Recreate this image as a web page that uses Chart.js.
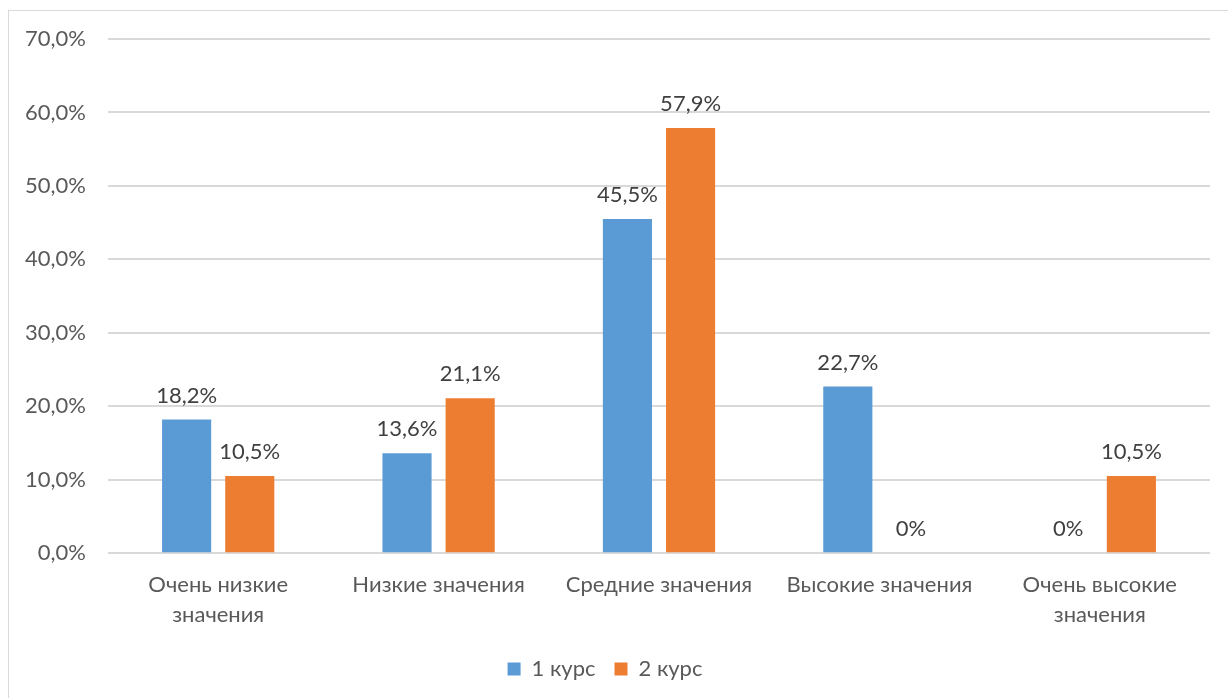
<!DOCTYPE html>
<html><head><meta charset="utf-8">
<script src="https://cdn.jsdelivr.net/npm/chart.js@4/dist/chart.umd.min.js"></script>
<style>
html,body{margin:0;padding:0;background:#fff;}
#wrap{position:absolute;left:0;top:0;width:1228px;height:698px;}
#frame{position:absolute;left:8px;top:10px;width:1240px;height:720px;border:1px solid #d9d9d9;box-sizing:border-box;}
canvas{position:absolute;left:0;top:0;}
</style></head>
<body>
<div id="wrap"><div id="frame"></div><canvas id="c" width="1228" height="698"></canvas></div>
<script>
const categories = [["Очень низкие","значения"],"Низкие значения","Средние значения","Высокие значения",["Очень высокие","значения"]];
const course1 = [18.2, 13.6, 45.5, 22.7, 0];
const course2 = [10.5, 21.1, 57.9, 0, 10.5];
const seriesNames = ["1 курс","2 курс"];
const yTicks = [0,10,20,30,40,50,60,70];

const FONT = "Lato, 'Open Sans', sans-serif";
const FS = 22;
function fmt(v){ return v===0 ? "0%" : v.toFixed(1).replace('.',',')+'%'; }

const labelPlugin = {
  id:'labels',
  afterDatasetsDraw(chart){
    const ctx = chart.ctx;
    ctx.save();
    ctx.font = FS + "px " + FONT;
    ctx.fillStyle = "#404040";
    ctx.textAlign = "center";
    ctx.textBaseline = "bottom";
    chart.data.datasets.forEach((ds,i)=>{
      chart.getDatasetMeta(i).data.forEach((bar,j)=>{
        ctx.fillText(fmt(ds.data[j]), bar.x, bar.y - 13);
      });
    });
    ctx.restore();
  }
};

new Chart(document.getElementById('c'), {
  type:'bar',
  data:{
    labels: categories,
    datasets:[
      {label:seriesNames[0], data:course1, backgroundColor:'#5b9bd5', categoryPercentage:0.573, barPercentage:0.778},
      {label:seriesNames[1], data:course2, backgroundColor:'#ed7d31', categoryPercentage:0.573, barPercentage:0.778}
    ]
  },
  options:{
    responsive:false, animation:false,
    layout:{padding:{left:0,right:18,top:39,bottom:8}},
    plugins:{
      legend:{position:'bottom',
        labels:{boxWidth:13,boxHeight:13,font:{family:FONT,size:FS},color:'#595959',padding:19}
      },
      tooltip:{enabled:false}
    },
    scales:{
      x:{
        grid:{display:false},
        border:{display:false},
        ticks:{font:{family:FONT,size:FS,lineHeight:1.36},color:'#595959',maxRotation:0,autoSkip:false,padding:9}
      },
      y:{
        min:0,max:70,
        afterBuildTicks(ax){ ax.ticks = yTicks.map(v=>({value:v})); },
        afterFit(ax){ ax.width = 108; },
        grid:{color:'#d9d9d9',lineWidth:2,drawTicks:false},
        border:{display:false},
        ticks:{font:{family:FONT,size:FS},color:'#595959',padding:22,callback:v=>v.toFixed(1).replace('.',',')+'%'}
      }
    }
  },
  plugins:[labelPlugin]
});
</script>
</body></html>
